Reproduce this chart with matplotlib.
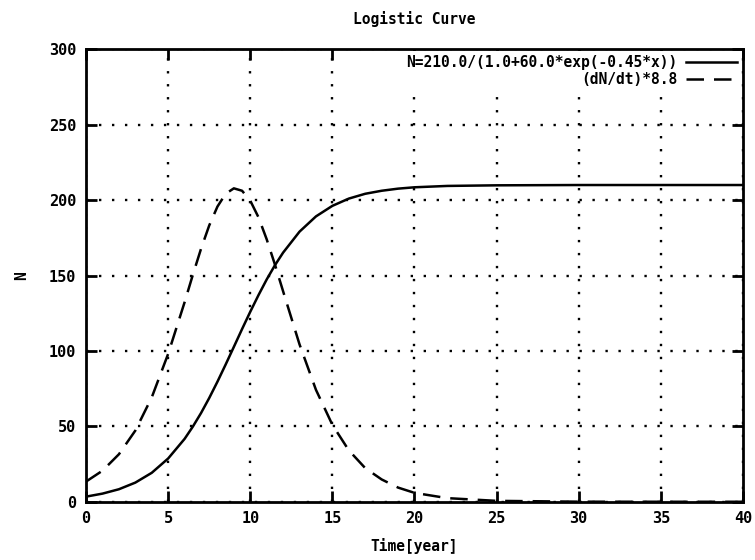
import numpy as np
import matplotlib
matplotlib.use("Agg")
import matplotlib.pyplot as plt

# values
years = [0, 1, 2, 3, 4, 5, 6, 6.5, 7, 7.5, 8, 8.5, 9, 9.5, 10, 10.5, 11, 11.5,
         12, 13, 14, 15, 16, 17, 18, 19, 20, 22, 25, 30, 35, 40]
n_pop = [3.4, 5.4, 8.3, 12.7, 19.2, 28.7, 41.7, 49.8, 58.8, 68.8, 79.6, 91.0,
         102.7, 114.5, 126.0, 137.0, 147.4, 156.8, 165.2, 179.1, 189.2, 196.2,
         201.0, 204.2, 206.2, 207.6, 208.5, 209.4, 209.8, 210.0, 210.0, 210.0]
dn_dt = [13.4, 20.6, 31.5, 47.2, 69.2, 98.1, 132.3, 150.4, 167.7, 183.2, 195.7,
         204.2, 207.8, 206.2, 199.6, 188.6, 174.0, 157.3, 139.5, 104.3, 74.2,
         51.0, 34.1, 22.3, 14.8, 9.4, 5.9, 2.4, 0.6, 0.05, 0.0, 0.0]

plt.rcParams['font.family'] = ['DejaVu Sans Mono']
plt.rcParams['font.weight'] = 'bold'

fig = plt.figure(figsize=(7.55, 5.6), dpi=100)
ax = fig.add_axes([0.114, 0.104, 0.870, 0.808])

ax.plot(years, n_pop, color='black', linewidth=1.8,
        label="N=210.0/(1.0+60.0*exp(-0.45*x))")
ax.plot(years, dn_dt, color='black', linewidth=1.8, dashes=(7, 4),
        label="(dN/dt)*8.8")

ax.set_xlim(0, 40)
ax.set_ylim(0, 300)
ax.set_xticks(np.arange(0, 41, 5))
ax.set_yticks(np.arange(0, 301, 50))
ax.grid(True, color='black', linestyle=(0, (1, 4.5)), linewidth=1.7)
ax.tick_params(direction='in', length=8, width=2, top=True, right=True,
               labelsize=11, pad=7)
for lab in ax.get_xticklabels() + ax.get_yticklabels():
    lab.set_fontweight('bold')
for s in ax.spines.values():
    s.set_linewidth(2)

ax.set_title("Logistic Curve", fontsize=10.5, fontweight='bold', pad=18)
ax.set_xlabel("Time[year]", fontsize=10.5, fontweight='bold', labelpad=8)
ax.set_ylabel("N", fontsize=10.5, fontweight='bold', labelpad=14)

leg = ax.legend(loc='upper right', frameon=True, fancybox=False,
                facecolor='white', edgecolor='none', framealpha=1,
                markerfirst=False, handlelength=3.5, handletextpad=0.6,
                borderpad=0.25, borderaxespad=0.15, labelspacing=0.15,
                prop={'weight': 'bold', 'size': 10.5})

fig.savefig("out.png", dpi=100)
